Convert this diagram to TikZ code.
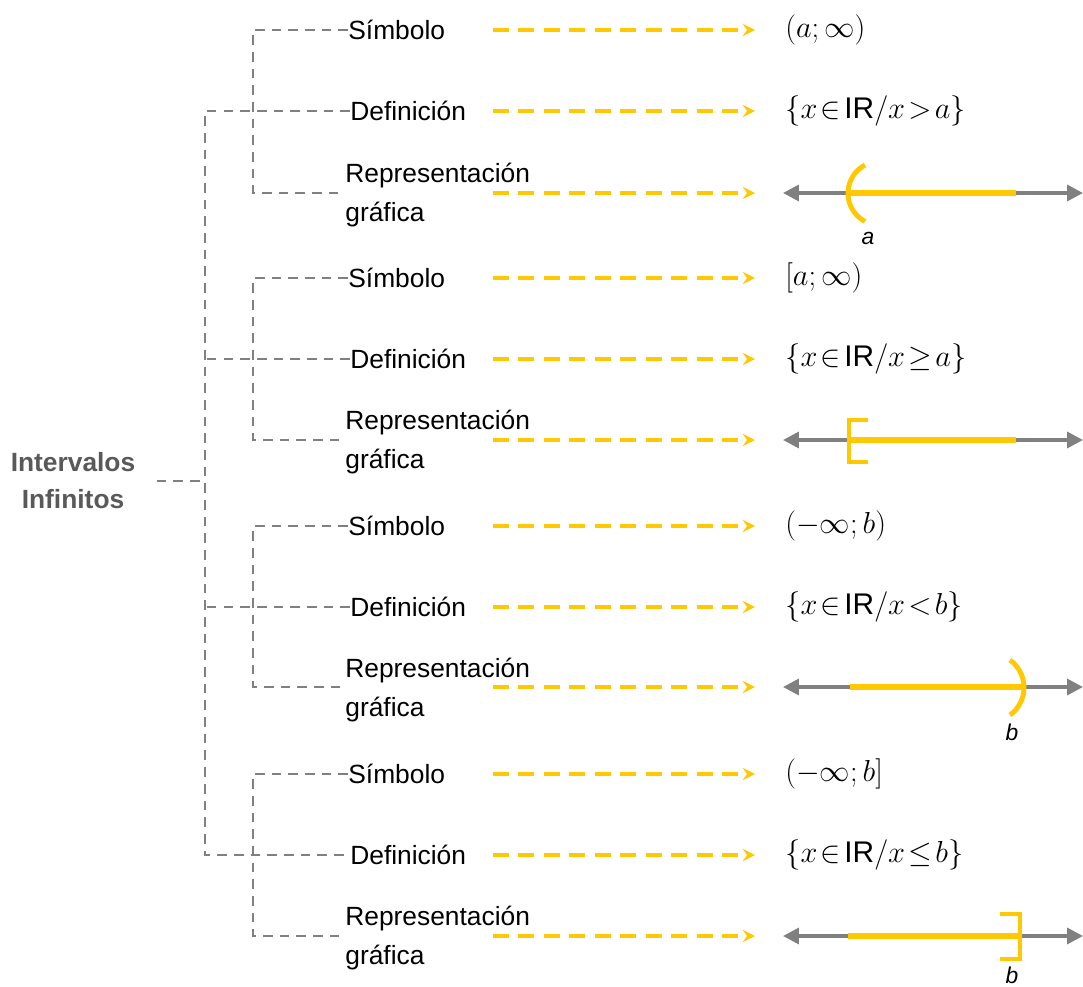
\documentclass[tikz,border=0pt]{standalone}
\usepackage{fontspec}
\setmainfont{Liberation Sans}
\usetikzlibrary{arrows.meta,positioning}
\definecolor{treegray}{HTML}{808080}
\definecolor{titlegray}{HTML}{595959}
\definecolor{ambar}{HTML}{FFC800}

\begin{document}
\begin{tikzpicture}[
    x=0.02cm, y=-0.02cm,
    titlebox/.style={align=center, inner sep=0pt, text=titlegray, font=\fontsize{15}{21}\selectfont\bfseries},
    labelbox/.style={anchor=west, inner sep=0pt, align=left, font=\fontsize{15}{21.7}\selectfont},
    mathbox/.style={anchor=west, inner sep=0pt, font=\fontsize{17}{20}\selectfont},
    tree/.style={draw=treegray, line width=1.3pt, dash pattern=on 5.5pt off 4pt},
    yarrow/.style={draw=ambar, line width=2pt, dash pattern=on 9pt off 5.5pt, -{Stealth[length=7pt,width=7pt,inset=2.5pt]}},
    numline/.style={draw=treegray, line width=2pt, {Triangle[length=9pt,width=9pt]}-{Triangle[length=9pt,width=9pt]}},
    ybold/.style={draw=ambar, line width=3.4pt},
    ymark/.style={draw=ambar, line width=2.8pt},
    pointlbl/.style={inner sep=0pt, font=\fontsize{13}{15}\selectfont\itshape}
]
\useasboundingbox (0,0) rectangle (1083,987);
\thickmuskip=2mu\relax

% Title
\node[titlebox] (title) at (73,481) {Intervalos\\Infinitos};

% (a;oo)
\node[labelbox] (sym1) at (348,30) {Símbolo};
\node[labelbox] (def1) at (350,111) {Definición};
\node[labelbox] (rep1) at (345,195) {Representación\\gráfica};
\node[mathbox] (symres1) at (785,30) {$\bigl(a;\infty\bigr)$};
\node[mathbox] (defres1) at (785,111) {$\bigl\{x\in\mbox{IR}/x>a\bigr\}$};
\coordinate (nl1) at (783,193);

% [a;oo)
\node[labelbox] (sym2) at (348,278) {Símbolo};
\node[labelbox] (def2) at (350,359) {Definición};
\node[labelbox] (rep2) at (345,442) {Representación\\gráfica};
\node[mathbox] (symres2) at (785,278) {$\bigl[a;\infty\bigr)$};
\node[mathbox] (defres2) at (785,359) {$\bigl\{x\in\mbox{IR}/x\geq a\bigr\}$};
\coordinate (nl2) at (783,440);

% (-oo;b)
\node[labelbox] (sym3) at (348,526) {Símbolo};
\node[labelbox] (def3) at (350,607) {Definición};
\node[labelbox] (rep3) at (345,690) {Representación\\gráfica};
\node[mathbox] (symres3) at (785,526) {$\bigl(-\infty;b\bigr)$};
\node[mathbox] (defres3) at (785,607) {$\bigl\{x\in\mbox{IR}/x<b\bigr\}$};
\coordinate (nl3) at (783,687);

% (-oo;b]
\node[labelbox] (sym4) at (348,774) {Símbolo};
\node[labelbox] (def4) at (350,855) {Definición};
\node[labelbox] (rep4) at (345,938) {Representación\\gráfica};
\node[mathbox] (symres4) at (785,774) {$\bigl(-\infty;b\bigr]$};
\node[mathbox] (defres4) at (785,855) {$\bigl\{x\in\mbox{IR}/x\leq b\bigr\}$};
\coordinate (nl4) at (783,936);

% Tree
\coordinate (trunk) at (205,482);
\draw[tree, shorten <=12] (title.east) -- (title.east -| trunk);
\draw[tree] (def1.west) -| (trunk) |- (def4.west);
\draw[tree] (def2.west) -- (def2.west -| trunk);
\draw[tree] (def3.west) -- (def3.west -| trunk);
\draw[tree] (sym1.west) -- ++(-95,0) |- (nl1 -| rep1.west);
\draw[tree] (sym2.west) -- ++(-95,0) |- (nl2 -| rep2.west);
\draw[tree] (sym3.west) -- ++(-95,0) |- (nl3 -| rep3.west);
\draw[tree] (sym4.west) -- ++(-95,0) |- (nl4 -| rep4.west);

% Arrows
\coordinate (ystart) at (493,0);
\coordinate (yend) at (755,0);
\draw[yarrow] (sym1 -| ystart) -- (sym1 -| yend);
\draw[yarrow] (def1 -| ystart) -- (def1 -| yend);
\draw[yarrow] (nl1 -| ystart) -- (nl1 -| yend);
\draw[yarrow] (sym2 -| ystart) -- (sym2 -| yend);
\draw[yarrow] (def2 -| ystart) -- (def2 -| yend);
\draw[yarrow] (nl2 -| ystart) -- (nl2 -| yend);
\draw[yarrow] (sym3 -| ystart) -- (sym3 -| yend);
\draw[yarrow] (def3 -| ystart) -- (def3 -| yend);
\draw[yarrow] (nl3 -| ystart) -- (nl3 -| yend);
\draw[yarrow] (sym4 -| ystart) -- (sym4 -| yend);
\draw[yarrow] (def4 -| ystart) -- (def4 -| yend);
\draw[yarrow] (nl4 -| ystart) -- (nl4 -| yend);

% Number lines
\draw[numline] (nl1) -- ++(300,0);
\draw[ybold] (850,193) -- (1016,193);
\draw[ymark] (865,165) arc[start angle=242, end angle=118, radius=32];
\node[pointlbl] (pa1) at (868,238) {a};

\draw[numline] (nl2) -- ++(300,0);
\draw[ybold] (849,440) -- (1016,440);
\draw[ymark] (868,420) -- (849,420) -- (849,462) -- (868,462);

\draw[numline] (nl3) -- ++(300,0);
\draw[ybold] (850,687) -- (1022,687);
\draw[ymark] (1010,660) arc[start angle=-54, end angle=54, radius=34];
\node[pointlbl] (pb3) at (1012,732) {b};

\draw[numline] (nl4) -- ++(300,0);
\draw[ybold] (848,936) -- (1020,936);
\draw[ymark] (1000,914) -- (1020,914) -- (1020,959) -- (1000,959);
\node[pointlbl] (pb4) at (1012,975) {b};

\end{tikzpicture}
\end{document}
